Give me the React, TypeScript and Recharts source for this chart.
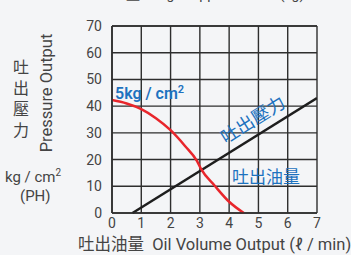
import { ComposedChart, Line, XAxis, YAxis, CartesianGrid } from 'recharts';

const xTicks = [0, 1, 2, 3, 4, 5, 6, 7];
const yTicks = [0, 10, 20, 30, 40, 50, 60, 70];

// 吐出壓力 curve (red)
const pressureCurve = [
  { x: 0, y: 42.3 },
  { x: 0.5, y: 41 },
  { x: 1, y: 38.9 },
  { x: 1.5, y: 35.5 },
  { x: 2, y: 31 },
  { x: 2.5, y: 25 },
  { x: 2.9, y: 19.5 },
  { x: 3.05, y: 16.3 },
  { x: 3.5, y: 10.3 },
  { x: 4, y: 4.2 },
  { x: 4.5, y: 0 },
];

// 吐出油量 line (black)
const volumeLine = [
  { x: 0.7, y: 0 },
  { x: 7, y: 43 },
];

const C = {
  bg: '#f4f5f7',
  grid: '#2e2e2e',
  tick: '#444',
  blue: '#1d72bf',
  red: '#e8262c',
  black: '#1e1e1e',
};

const font = 'Roboto, "Noto Sans CJK TC", sans-serif';

const tickStyle = { fill: C.tick, fontSize: 14, fontFamily: font };

function Abs({ style, children }: { style: React.CSSProperties; children: React.ReactNode }) {
  return <div style={{ position: 'absolute', whiteSpace: 'nowrap', fontFamily: font, lineHeight: 1, ...style }}>{children}</div>;
}

export default function App() {
  return (
    <div style={{ position: 'absolute', left: 0, top: 0, width: 351, height: 255, background: C.bg, overflow: 'hidden' }}>
      <ComposedChart width={351} height={255} margin={{ top: 0, right: 34, left: 0, bottom: 0 }}>
        <CartesianGrid stroke={C.grid} strokeWidth={1.4} />
        <XAxis
          type="number"
          dataKey="x"
          domain={[0, 7]}
          ticks={xTicks}
          height={42}
          tick={tickStyle}
          tickLine={false}
          tickSize={0}
          tickMargin={5}
          axisLine={{ stroke: C.grid, strokeWidth: 1.6 }}
          allowDataOverflow
        />
        <XAxis
          xAxisId="top"
          orientation="top"
          type="number"
          dataKey="x"
          domain={[0, 7]}
          ticks={xTicks}
          height={26}
          tick={tickStyle}
          tickLine={false}
          tickSize={0}
          tickMargin={6}
          axisLine={{ stroke: C.grid, strokeWidth: 1.6 }}
        />
        <YAxis
          type="number"
          domain={[0, 70]}
          ticks={yTicks}
          width={112}
          tick={tickStyle}
          tickLine={false}
          tickSize={0}
          tickMargin={10}
          axisLine={{ stroke: C.grid, strokeWidth: 1.6 }}
        />
        <Line
          data={volumeLine}
          dataKey="y"
          type="linear"
          stroke={C.black}
          strokeWidth={2.5}
          dot={false}
          isAnimationActive={false}
        />
        <Line
          data={pressureCurve}
          dataKey="y"
          type="monotone"
          stroke={C.red}
          strokeWidth={2.5}
          dot={false}
          isAnimationActive={false}
        />
      </ComposedChart>

      <Abs style={{ left: 112, top: -13, fontSize: 14, color: C.tick }}>重量 Weight Approx. Value (kg)</Abs>

      <Abs style={{ left: 13, top: 57, fontSize: 16, color: C.tick, whiteSpace: 'normal', width: 18, lineHeight: '21px' }}>吐出壓力</Abs>
      <Abs style={{ left: 47, top: 93, fontSize: 16.5, color: C.tick, transform: 'translate(-50%, -50%) rotate(-90deg)' }}>Pressure Output</Abs>
      <Abs style={{ left: 5, top: 168, fontSize: 15, color: C.tick }}>
        kg / cm<sup style={{ fontSize: 10 }}>2</sup>
      </Abs>
      <Abs style={{ left: 20, top: 189, fontSize: 15, color: C.tick }}>(PH)</Abs>

      <Abs style={{ left: 78, top: 237, fontSize: 16.5, color: C.tick }}>吐出油量&nbsp;&nbsp;Oil Volume Output (ℓ / min)</Abs>

      <Abs style={{ left: 115, top: 84, fontSize: 16, fontWeight: 600, color: C.blue }}>
        5kg / cm<sup style={{ fontSize: 11 }}>2</sup>
      </Abs>
      <Abs style={{ left: 253, top: 120, fontSize: 18, color: C.blue, transform: 'translate(-50%, -50%) rotate(-32deg)' }}>吐出壓力</Abs>
      <Abs style={{ left: 232, top: 169, fontSize: 17, color: C.blue }}>吐出油量</Abs>
    </div>
  );
}
